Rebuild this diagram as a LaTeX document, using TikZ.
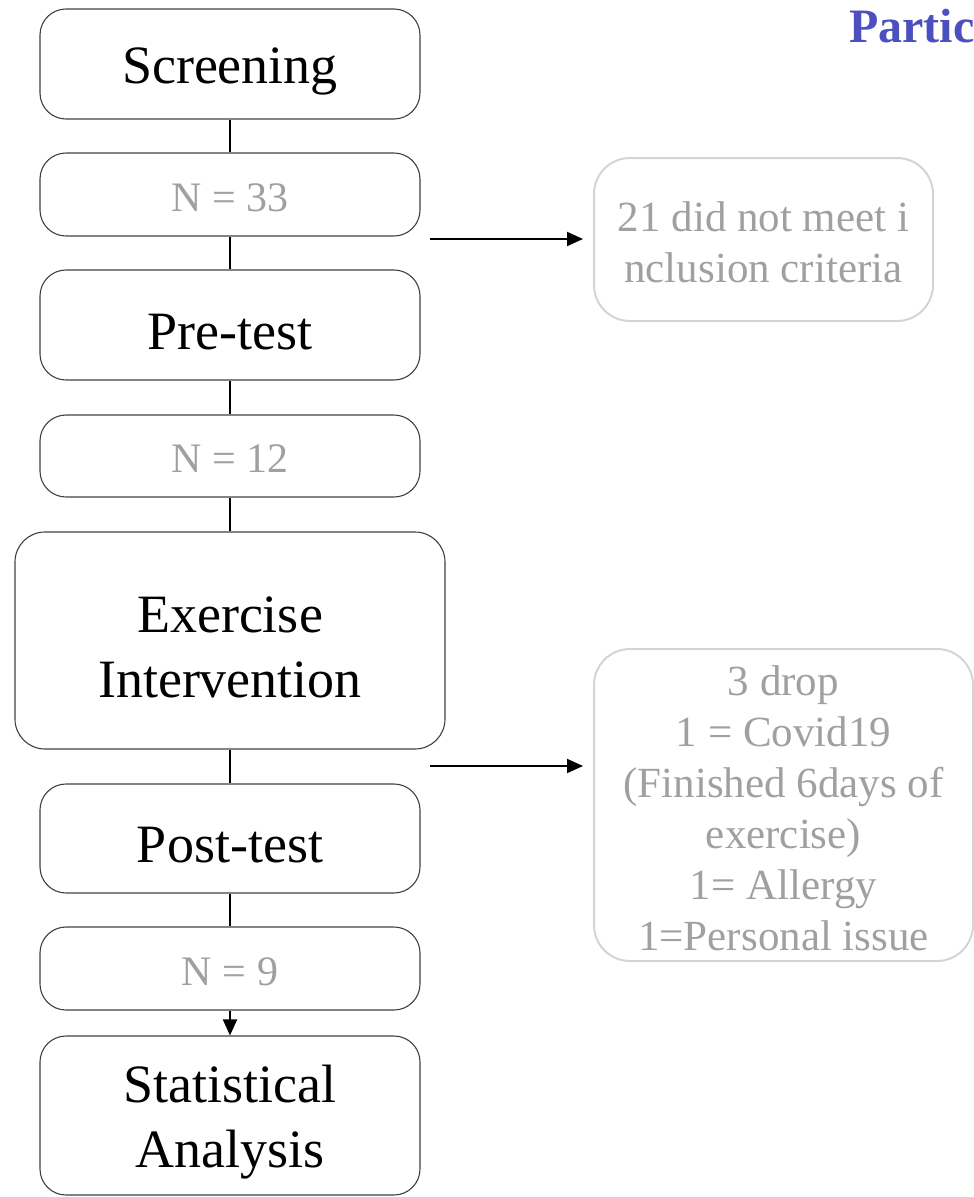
\documentclass[tikz,border=0pt]{standalone}
\usepackage{fontspec}
\setmainfont{Liberation Serif}
\usetikzlibrary{arrows.meta}
\definecolor{boxline}{HTML}{404040}
\definecolor{greytext}{HTML}{A0A0A0}
\definecolor{lightline}{HTML}{D4D4D4}
\definecolor{titleblue}{HTML}{4B50BE}
\tikzset{
  mainbox/.style={draw=boxline, line width=1.1pt, rounded corners=26pt, minimum width=380pt, inner sep=0pt},
  maintext/.style={align=center, inner sep=0pt, yshift=-7pt, font=\fontsize{54}{65}\selectfont},
  nbox/.style={draw=boxline, line width=1.1pt, rounded corners=26pt, minimum width=380pt, minimum height=83pt, inner sep=0pt},
  ntext/.style={inner sep=0pt, yshift=-3pt, text=greytext, font=\fontsize{42}{50}\selectfont},
  sidebox/.style={draw=lightline, line width=2pt, rounded corners=36pt, inner sep=0pt},
  sidetext/.style={align=center, inner sep=0pt, yshift=-3pt, text=greytext, font=\fontsize{43}{51}\selectfont},
  link/.style={line width=2pt, black},
  arr/.style={line width=2pt, black, -{Triangle[length=16pt,width=14pt]}}
}
\begin{document}
\begin{tikzpicture}[x=1pt,y=-1pt]
\useasboundingbox (0,0) rectangle (974,1197);
\node[mainbox, minimum height=110pt, label={[maintext]center:Screening}] (scr) at (230,64) {};
\node[nbox, label={[ntext]center:N = 33}] (n33) at (230,194.5) {};
\node[mainbox, minimum height=110pt, label={[maintext]center:Pre-test}] (pre) at (230,325) {};
\node[nbox, minimum height=82pt, label={[ntext]center:N = 12}] (n12) at (230,456) {};
\node[mainbox, minimum width=430pt, minimum height=217pt, rounded corners=30pt, label={[maintext]center:Exercise\\Intervention}] (ex) at (230,640.5) {};
\node[mainbox, minimum height=109pt, label={[maintext]center:Post-test}] (post) at (230,838.5) {};
\node[nbox, label={[ntext]center:N = 9}] (n9) at (230,968.5) {};
\node[mainbox, minimum height=159pt, label={[maintext]center:Statistical\\Analysis}] (stat) at (230,1115.5) {};
\node[sidebox, minimum width=339pt, minimum height=163pt, label={[sidetext]center:21 did not meet i\\nclusion criteria}] (excl) at (763.5,239.5) {};
\node[sidebox, minimum width=379pt, minimum height=312pt, label={[sidetext]center:3 drop\\1 = Covid19\\(Finished 6days of\\exercise)\\1= Allergy\\1=Personal issue}] (drop) at (783.5,805) {};
\node[anchor=base west, text=titleblue, font=\fontsize{48}{54}\selectfont\bfseries, inner sep=0pt] (title) at (849,42) {Partic};
\draw[link] (scr) -- (n33);
\draw[link] (n33) -- (pre);
\draw[link] (pre) -- (n12);
\draw[link] (n12) -- (ex);
\draw[link] (ex) -- (post);
\draw[link] (post) -- (n9);
\draw[arr] (n9) -- (stat);
\coordinate (a1) at (430,239);
\coordinate (a1e) at (583,239);
\coordinate (a2) at (430,766);
\coordinate (a2e) at (583,766);
\draw[arr] (a1) -- (a1e);
\draw[arr] (a2) -- (a2e);
\end{tikzpicture}
\end{document}
